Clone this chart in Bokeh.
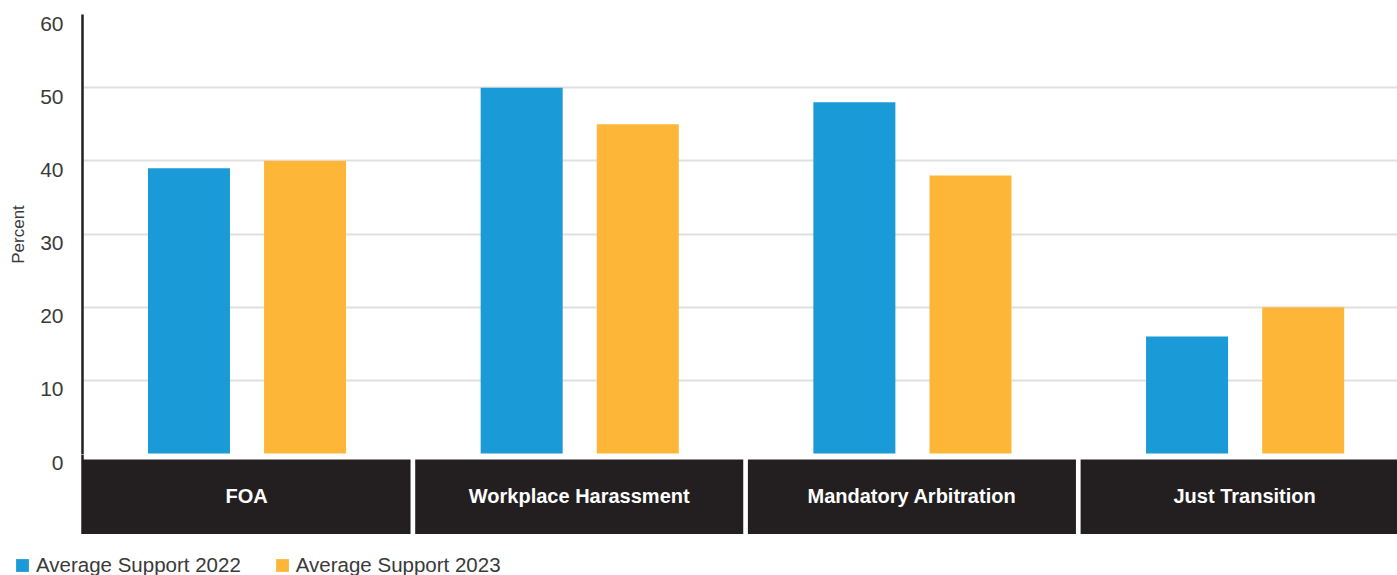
from bokeh.plotting import figure
from bokeh.layouts import column
from bokeh.models import (ColumnDataSource, Range1d, LinearAxis, FixedTicker, Grid,
                          Legend, LegendItem)
from bokeh.transform import dodge
from bokeh.core.properties import value
from bokeh.embed import file_html
from bokeh.resources import INLINE

categories = ["FOA", "Workplace Harassment", "Mandatory Arbitration", "Just Transition"]
support_2022 = [39, 50, 48, 16]
support_2023 = [40, 45, 38, 20]
y_ticks = [0, 10, 20, 30, 40, 50, 60]
series_names = ["Average Support 2022", "Average Support 2023"]

BLUE = "#1a9ad7"
ORANGE = "#fdb638"
DARK = "#231f20"
TXT = "#3a3a3a"
FONT = "Liberation Sans"

src = ColumnDataSource(dict(
    idx=list(range(len(categories))),
    cat=categories,
    s22=support_2022,
    s23=support_2023,
))

xr = Range1d(0, 3.9525)
shift = 1.23   # tick labels sit slightly below their gridlines


def base(height, yr, top=0):
    f = figure(width=1397, height=height, output_backend="svg", toolbar_location=None,
               x_range=xr, y_range=yr, x_axis_location=None, y_axis_location=None,
               min_border_left=82, min_border_right=0, min_border_top=top,
               min_border_bottom=0)
    f.outline_line_color = None
    f.background_fill_color = "white"
    f.grid.visible = False
    return f


def value_axis(fig, yr, label=None):
    fig.extra_y_ranges = {"lab": Range1d(yr.start + shift, yr.end + shift)}
    a = LinearAxis(y_range_name="lab", ticker=FixedTicker(ticks=y_ticks))
    a.axis_line_color = DARK
    a.axis_line_width = 2.5
    a.major_tick_line_color = None
    a.minor_tick_line_color = None
    a.major_label_standoff = 13
    a.major_label_text_font = FONT
    a.major_label_text_font_size = "21px"
    a.major_label_text_color = TXT
    if label:
        a.axis_label = label
        a.axis_label_standoff = 9
        a.axis_label_text_font = FONT
        a.axis_label_text_font_size = "17px"
        a.axis_label_text_font_style = "normal"
        a.axis_label_text_color = TXT
    fig.add_layout(a, "left")
    return a


# ---- main plot (values 0..60) ----
y_main = Range1d(-0.13, 60)
p = base(454, y_main, top=14)
value_axis(p, y_main, "Percent")
p.add_layout(Grid(dimension=1, ticker=FixedTicker(ticks=y_ticks[1:]),
                  grid_line_color="#e0e0e0", grid_line_width=2))
p.vbar(x=dodge("idx", 0.320), width=0.2465, top="s22", bottom=0, source=src,
       fill_color=BLUE, line_color=None)
p.vbar(x=dodge("idx", 0.669), width=0.2465, top="s23", bottom=0, source=src,
       fill_color=ORANGE, line_color=None)

# ---- category band strip ----
y_band = Range1d(-11.07, -0.13)
p2 = base(80, y_band)
value_axis(p2, y_band)
p2.vbar(x=dodge("idx", 0.493), width=0.986, top=-0.82, bottom=-12, source=src,
        fill_color=DARK, line_color=None)
p2.text(x=dodge("idx", 0.493), y=-5.74, text="cat", source=src,
        text_color="white", text_font=value(FONT), text_font_style="bold",
        text_font_size="20px", text_align="center", text_baseline="middle")

# ---- legend strip ----
p3 = figure(width=1397, height=41, output_backend="svg", toolbar_location=None,
            x_range=xr, y_range=Range1d(1000, 1001), x_axis_location=None,
            y_axis_location=None, min_border=0)
p3.frame_align = False
p3.outline_line_color = None
p3.grid.visible = False
l22 = p3.vbar(x="idx", width=0.2, top="s22", bottom=0, source=src,
              fill_color=BLUE, line_color=None)
l23 = p3.vbar(x="idx", width=0.2, top="s23", bottom=0, source=src,
              fill_color=ORANGE, line_color=None)
legend = Legend(items=[LegendItem(label=series_names[0], renderers=[l22]),
                       LegendItem(label=series_names[1], renderers=[l23])],
                location=(14, -2), orientation="horizontal",
                padding=0, margin=0, spacing=33, label_standoff=6,
                glyph_width=16, glyph_height=16, label_height=16,
                label_text_font=FONT, label_text_font_size="20.5px",
                label_text_color=TXT,
                border_line_color=None, background_fill_alpha=0)
p3.add_layout(legend)

layout = column(p, p2, p3, spacing=0)
open("out.html", "w").write(file_html(layout, INLINE))
